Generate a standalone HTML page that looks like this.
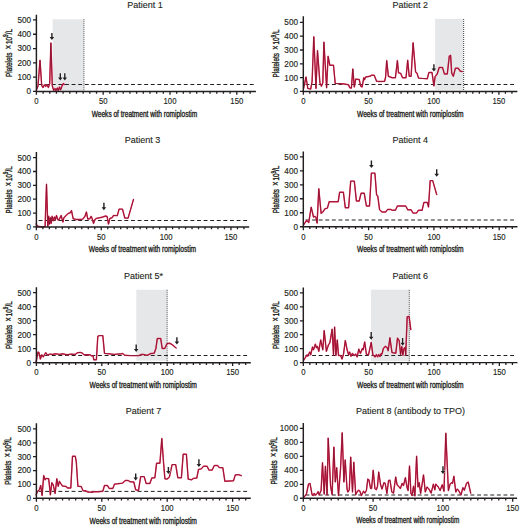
<!DOCTYPE html>
<html lang="en"><head><meta charset="utf-8"><title>Platelet counts during romiplostim treatment</title>
<style>html,body{margin:0;padding:0;background:#fff}body{width:520px;height:526px;overflow:hidden}svg{display:block}text{font-family:"Liberation Sans",sans-serif;fill:#231f20}.ax{stroke:#231f20;stroke-width:1.45;fill:none}.tk{stroke:#231f20;stroke-width:1.3;fill:none}.ref{stroke:#231f20;stroke-width:1;stroke-dasharray:3.9 2.7;stroke-dashoffset:4.9;fill:none}.dot{stroke:#55565a;stroke-width:1.15;stroke-dasharray:1 1;fill:none}.lo{stroke:#e82c58;stroke-width:1.45;fill:none;stroke-linejoin:round;stroke-linecap:round}.li{stroke:#7a1029;stroke-width:0.75;fill:none;stroke-linejoin:round;stroke-linecap:round}.ar{fill:#231f20;stroke:#fff;stroke-width:0.7;paint-order:stroke}.t{font-size:9px;stroke:#231f20;stroke-width:0.12px}.n{font-size:9px;stroke:#231f20;stroke-width:0.15px}.c{font-size:8.7px;stroke:#231f20;stroke-width:0.36px}</style></head><body>
<svg width="520" height="526" viewBox="0 0 520 526">
<rect width="520" height="526" fill="#fff"/>
<g>
<rect x="52.6" y="19.3" width="30.8" height="71.75" fill="#e6e7e8"/>
<text class="t" x="145.1" y="7.75" text-anchor="middle">Patient 1</text>
<path class="ref" d="M36.9 84.5H254.4"/>
<path class="dot" d="M83.9 19.3V91.45"/>
<path class="lo" d="M36.4 90.1L38 86.1L40 60.2L41.7 85.5L43 87.5L44.4 84.8L45.7 86.4L46.9 84.8L48.4 87.5L49.7 83.5L50.9 42.9L52.3 86.1L53.7 90.3L55 88.6L55.9 90.6L57.3 88L58.3 90.8L59.5 87L60.6 89.8L62.2 85.5L63.5 83.5L64.3 84.5"/>
<path class="li" d="M36.4 90.1L38 86.1L40 60.2L41.7 85.5L43 87.5L44.4 84.8L45.7 86.4L46.9 84.8L48.4 87.5L49.7 83.5L50.9 42.9L52.3 86.1L53.7 90.3L55 88.6L55.9 90.6L57.3 88L58.3 90.8L59.5 87L60.6 89.8L62.2 85.5L63.5 83.5L64.3 84.5"/>
<path class="ax" d="M36.4 14.8V91.45H255.9"/>
<text class="n" transform="translate(31.1 94.35) scale(0.91 1)" text-anchor="end">0</text>
<text class="n" transform="translate(31.1 80.05) scale(0.91 1)" text-anchor="end">100</text>
<text class="n" transform="translate(31.1 65.75) scale(0.91 1)" text-anchor="end">200</text>
<text class="n" transform="translate(31.1 51.45) scale(0.91 1)" text-anchor="end">300</text>
<text class="n" transform="translate(31.1 37.15) scale(0.91 1)" text-anchor="end">400</text>
<text class="n" transform="translate(31.1 22.85) scale(0.91 1)" text-anchor="end">500</text>
<path class="tk" d="M33 91.45H36.4M33 77.15H36.4M33 62.85H36.4M33 48.55H36.4M33 34.25H36.4M33 19.95H36.4M36.4 91.45V94.85M43.08 91.45V93.75M49.76 91.45V93.75M56.44 91.45V93.75M63.12 91.45V93.75M69.8 91.45V93.75M76.48 91.45V93.75M83.16 91.45V93.75M89.84 91.45V93.75M96.52 91.45V93.75M103.2 91.45V94.85M109.88 91.45V93.75M116.56 91.45V93.75M123.24 91.45V93.75M129.92 91.45V93.75M136.6 91.45V93.75M143.28 91.45V93.75M149.96 91.45V93.75M156.64 91.45V93.75M163.32 91.45V93.75M170 91.45V94.85M176.68 91.45V93.75M183.36 91.45V93.75M190.04 91.45V93.75M196.72 91.45V93.75M203.4 91.45V93.75M210.08 91.45V93.75M216.76 91.45V93.75M223.44 91.45V93.75M230.12 91.45V93.75M236.8 91.45V94.85M243.48 91.45V93.75M250.16 91.45V93.75"/>
<text class="n" transform="translate(36.4 103.8) scale(0.86 1)" text-anchor="middle">0</text>
<text class="n" transform="translate(103.2 103.8) scale(0.86 1)" text-anchor="middle">50</text>
<text class="n" transform="translate(170 103.8) scale(0.86 1)" text-anchor="middle">100</text>
<text class="n" transform="translate(236.8 103.8) scale(0.86 1)" text-anchor="middle">150</text>
<text class="c" transform="translate(91.75 117) scale(0.7551 1)">Weeks of treatment with romiplostim</text>
<text class="c" transform="translate(11.5 76.95) rotate(-90) scale(0.7330 1)">Platelets<tspan dx="4.6" font-size="10">×</tspan><tspan dx="1.2">10</tspan><tspan font-size="6.5" dy="-3.2">9</tspan><tspan dy="3.2">/L</tspan></text>
<path class="ar" d="M51.2 33H52.6V37H54.2L51.9 40L49.6 37H51.2Z"/>
<path class="ar" d="M59.6 73.2H61V77.5H62.6L60.3 80.5L58 77.5H59.6Z"/>
<path class="ar" d="M64.1 73.2H65.5V77.5H67.1L64.8 80.5L62.5 77.5H64.1Z"/>
</g>
<g>
<rect x="435.1" y="18.9" width="28" height="71.2" fill="#e6e7e8"/>
<text class="t" x="410.25" y="8.25" text-anchor="middle">Patient 2</text>
<path class="ref" d="M303.8 84.5H515.9"/>
<path class="dot" d="M463.6 18.9V91.4"/>
<path class="lo" d="M303.6 88.4L306 77L307.8 88.4L310.7 89.1L312.1 81.3L313.8 36.8L316 88.4L317.5 50.6L319.9 82.7L321.4 86.2L322.8 82.7L323.9 42.1L326.6 87.7L328.1 56.3L329.9 65.3L333.5 65.3L335.2 83.4L342.7 83.8L348.6 84.8L349.7 87.7L351.4 88.1L352.8 68.9L354.3 87L355.7 79.1L359.2 79.5L360.7 86.2L362.1 87L363.8 77.7L364.5 79.8L365.7 77L369.9 76.3L371.4 75.3L374.2 75.3L376.6 81.3L380.6 81.5L384.6 81.3L385.6 77L386.7 60.6L388.4 76.3L392.1 77.7L395.4 77.7L397.4 60.6L398.5 72.7L400.7 73.4L402.5 77.7L406 77.7L407.7 60.3L409.2 76.3L411.1 76.3L413.1 42.8L415.6 72L417.1 73.4L418.5 78.1L422.1 78.4L427.3 78.7L428.9 72.5L432 72.4L433.9 85.9L435.1 76.6L437.2 74L439.2 67.5L442.5 67.5L444.4 73.9L447.3 73.9L449.3 56.1L450.6 55.3L451.7 73.1L453.3 76.3L455.4 68.3L458.2 68.3L460.3 71.2L462.2 71.5"/>
<path class="li" d="M303.6 88.4L306 77L307.8 88.4L310.7 89.1L312.1 81.3L313.8 36.8L316 88.4L317.5 50.6L319.9 82.7L321.4 86.2L322.8 82.7L323.9 42.1L326.6 87.7L328.1 56.3L329.9 65.3L333.5 65.3L335.2 83.4L342.7 83.8L348.6 84.8L349.7 87.7L351.4 88.1L352.8 68.9L354.3 87L355.7 79.1L359.2 79.5L360.7 86.2L362.1 87L363.8 77.7L364.5 79.8L365.7 77L369.9 76.3L371.4 75.3L374.2 75.3L376.6 81.3L380.6 81.5L384.6 81.3L385.6 77L386.7 60.6L388.4 76.3L392.1 77.7L395.4 77.7L397.4 60.6L398.5 72.7L400.7 73.4L402.5 77.7L406 77.7L407.7 60.3L409.2 76.3L411.1 76.3L413.1 42.8L415.6 72L417.1 73.4L418.5 78.1L422.1 78.4L427.3 78.7L428.9 72.5L432 72.4L433.9 85.9L435.1 76.6L437.2 74L439.2 67.5L442.5 67.5L444.4 73.9L447.3 73.9L449.3 56.1L450.6 55.3L451.7 73.1L453.3 76.3L455.4 68.3L458.2 68.3L460.3 71.2L462.2 71.5"/>
<path class="ax" d="M303.3 16.3V91.4H517.4"/>
<text class="n" transform="translate(298 94.3) scale(0.91 1)" text-anchor="end">0</text>
<text class="n" transform="translate(298 80.5) scale(0.91 1)" text-anchor="end">100</text>
<text class="n" transform="translate(298 66.7) scale(0.91 1)" text-anchor="end">200</text>
<text class="n" transform="translate(298 52.9) scale(0.91 1)" text-anchor="end">300</text>
<text class="n" transform="translate(298 39.1) scale(0.91 1)" text-anchor="end">400</text>
<text class="n" transform="translate(298 25.3) scale(0.91 1)" text-anchor="end">500</text>
<path class="tk" d="M299.9 91.4H303.3M299.9 77.6H303.3M299.9 63.8H303.3M299.9 50H303.3M299.9 36.2H303.3M299.9 22.4H303.3M303.3 91.4V94.8M309.82 91.4V93.7M316.34 91.4V93.7M322.86 91.4V93.7M329.38 91.4V93.7M335.9 91.4V93.7M342.42 91.4V93.7M348.94 91.4V93.7M355.46 91.4V93.7M361.98 91.4V93.7M368.5 91.4V94.8M375.02 91.4V93.7M381.54 91.4V93.7M388.06 91.4V93.7M394.58 91.4V93.7M401.1 91.4V93.7M407.62 91.4V93.7M414.14 91.4V93.7M420.66 91.4V93.7M427.18 91.4V93.7M433.7 91.4V94.8M440.22 91.4V93.7M446.74 91.4V93.7M453.26 91.4V93.7M459.78 91.4V93.7M466.3 91.4V93.7M472.82 91.4V93.7M479.34 91.4V93.7M485.86 91.4V93.7M492.38 91.4V93.7M498.9 91.4V94.8M505.42 91.4V93.7M511.94 91.4V93.7"/>
<text class="n" transform="translate(303.3 103.8) scale(0.86 1)" text-anchor="middle">0</text>
<text class="n" transform="translate(368.5 103.8) scale(0.86 1)" text-anchor="middle">50</text>
<text class="n" transform="translate(433.7 103.8) scale(0.86 1)" text-anchor="middle">100</text>
<text class="n" transform="translate(498.9 103.8) scale(0.86 1)" text-anchor="middle">150</text>
<text class="c" transform="translate(357 117) scale(0.7622 1)">Weeks of treatment with romiplostim</text>
<text class="c" transform="translate(279 77.45) rotate(-90) scale(0.7330 1)">Platelets<tspan dx="4.6" font-size="10">×</tspan><tspan dx="1.2">10</tspan><tspan font-size="6.5" dy="-3.2">9</tspan><tspan dy="3.2">/L</tspan></text>
<path class="ar" d="M433.2 64.2H434.6V68.6H436.2L433.9 71.6L431.6 68.6H433.2Z"/>
</g>
<g>
<text class="t" x="142.5" y="142.5" text-anchor="middle">Patient 3</text>
<path class="ref" d="M36.9 220.5H247.7"/>
<path class="lo" d="M36.1 224.1L37.6 226.1L41.1 226.8L45.1 226.5L46.5 184.2L47.8 226.2L48.7 216.3L49.4 224.1L50.4 217.7L51.1 223.4L52.1 216.3L53.2 220.8L54.4 217L55.4 219.8L56.5 215.5L57.9 219.8L59.4 219.1L61.1 215.5L62.9 222L63.9 217.7L66.1 215.5L68.2 213.4L70.3 212.7L71.5 210.6L73.2 218.8L76 219.4L80.3 219.4L82.8 219.1L85 216.3L86.4 212L87.8 219.1L89.7 218.8L91.1 216.3L92.1 218.4L93.5 223.4L94.7 219.8L96.4 218.4L99.9 217.7L102.8 217L105.6 216L107.1 216.5L108.5 224.1L109.9 218.4L112.1 217.7L113.5 215.5L117.3 215.6L119.1 209.1L122.5 209.1L124.8 218L128.1 218.1L133.5 199.4"/>
<path class="li" d="M36.1 224.1L37.6 226.1L41.1 226.8L45.1 226.5L46.5 184.2L47.8 226.2L48.7 216.3L49.4 224.1L50.4 217.7L51.1 223.4L52.1 216.3L53.2 220.8L54.4 217L55.4 219.8L56.5 215.5L57.9 219.8L59.4 219.1L61.1 215.5L62.9 222L63.9 217.7L66.1 215.5L68.2 213.4L70.3 212.7L71.5 210.6L73.2 218.8L76 219.4L80.3 219.4L82.8 219.1L85 216.3L86.4 212L87.8 219.1L89.7 218.8L91.1 216.3L92.1 218.4L93.5 223.4L94.7 219.8L96.4 218.4L99.9 217.7L102.8 217L105.6 216L107.1 216.5L108.5 224.1L109.9 218.4L112.1 217.7L113.5 215.5L117.3 215.6L119.1 209.1L122.5 209.1L124.8 218L128.1 218.1L133.5 199.4"/>
<path class="ax" d="M36.4 152.1V226.9H249.2"/>
<text class="n" transform="translate(31.1 229.8) scale(0.91 1)" text-anchor="end">0</text>
<text class="n" transform="translate(31.1 215.95) scale(0.91 1)" text-anchor="end">100</text>
<text class="n" transform="translate(31.1 202.1) scale(0.91 1)" text-anchor="end">200</text>
<text class="n" transform="translate(31.1 188.25) scale(0.91 1)" text-anchor="end">300</text>
<text class="n" transform="translate(31.1 174.4) scale(0.91 1)" text-anchor="end">400</text>
<text class="n" transform="translate(31.1 160.55) scale(0.91 1)" text-anchor="end">500</text>
<path class="tk" d="M33 226.9H36.4M33 213.05H36.4M33 199.2H36.4M33 185.35H36.4M33 171.5H36.4M33 157.65H36.4M36.4 226.9V230.3M42.88 226.9V229.2M49.37 226.9V229.2M55.85 226.9V229.2M62.34 226.9V229.2M68.82 226.9V229.2M75.31 226.9V229.2M81.79 226.9V229.2M88.28 226.9V229.2M94.76 226.9V229.2M101.25 226.9V230.3M107.73 226.9V229.2M114.22 226.9V229.2M120.7 226.9V229.2M127.19 226.9V229.2M133.67 226.9V229.2M140.16 226.9V229.2M146.64 226.9V229.2M153.13 226.9V229.2M159.61 226.9V229.2M166.1 226.9V230.3M172.59 226.9V229.2M179.07 226.9V229.2M185.56 226.9V229.2M192.04 226.9V229.2M198.53 226.9V229.2M205.01 226.9V229.2M211.5 226.9V229.2M217.98 226.9V229.2M224.47 226.9V229.2M230.95 226.9V230.3M237.44 226.9V229.2M243.92 226.9V229.2"/>
<text class="n" transform="translate(36.4 239.5) scale(0.86 1)" text-anchor="middle">0</text>
<text class="n" transform="translate(101.25 239.5) scale(0.86 1)" text-anchor="middle">50</text>
<text class="n" transform="translate(166.1 239.5) scale(0.86 1)" text-anchor="middle">100</text>
<text class="n" transform="translate(230.95 239.5) scale(0.86 1)" text-anchor="middle">150</text>
<text class="c" transform="translate(88.75 252) scale(0.7675 1)">Weeks of treatment with romiplostim</text>
<text class="c" transform="translate(11.5 213.4) rotate(-90) scale(0.7192 1)">Platelets<tspan dx="4.6" font-size="10">×</tspan><tspan dx="1.2">10</tspan><tspan font-size="6.5" dy="-3.2">9</tspan><tspan dy="3.2">/L</tspan></text>
<path class="ar" d="M103.2 202.7H104.6V207.3H106.2L103.9 210.3L101.6 207.3H103.2Z"/>
</g>
<g>
<text class="t" x="410.25" y="143" text-anchor="middle">Patient 4</text>
<path class="ref" d="M303.8 220H516"/>
<path class="lo" d="M303.6 224.8L306.6 220.4L308.7 222.6L311.2 207.2L313.5 217L315 216.3L316 217.7L317.1 223.1L318.8 188.8L321.1 213.4L322.8 212L324.9 208.8L327.4 208.1L329.2 201.7L338.2 201.7L339.6 192.3L343.4 192.3L345.3 207.7L348.6 207.7L350.7 181.1L354.3 181.1L356.4 201L359.2 201L361.1 193.2L364.2 193.2L366.4 206L369.5 206L371.4 173.1L374.9 173.1L376.6 194.9L377.8 196.3L379.6 209.8L382 212L385.6 212L387.7 209.4L390.6 209.4L392.4 210.3L395.4 210.3L397.4 206L405.7 206L407.8 209.8L411.1 209.8L413.1 213.1L416.4 213.1L418.5 210.3L422.1 210.3L423.9 202.4L427.3 202.4L428.5 207L430.2 180.6L432.7 180.6L436.7 194.6"/>
<path class="li" d="M303.6 224.8L306.6 220.4L308.7 222.6L311.2 207.2L313.5 217L315 216.3L316 217.7L317.1 223.1L318.8 188.8L321.1 213.4L322.8 212L324.9 208.8L327.4 208.1L329.2 201.7L338.2 201.7L339.6 192.3L343.4 192.3L345.3 207.7L348.6 207.7L350.7 181.1L354.3 181.1L356.4 201L359.2 201L361.1 193.2L364.2 193.2L366.4 206L369.5 206L371.4 173.1L374.9 173.1L376.6 194.9L377.8 196.3L379.6 209.8L382 212L385.6 212L387.7 209.4L390.6 209.4L392.4 210.3L395.4 210.3L397.4 206L405.7 206L407.8 209.8L411.1 209.8L413.1 213.1L416.4 213.1L418.5 210.3L422.1 210.3L423.9 202.4L427.3 202.4L428.5 207L430.2 180.6L432.7 180.6L436.7 194.6"/>
<path class="ax" d="M303.3 151.4V226.75H517.5"/>
<text class="n" transform="translate(298 229.65) scale(0.91 1)" text-anchor="end">0</text>
<text class="n" transform="translate(298 215.66) scale(0.91 1)" text-anchor="end">100</text>
<text class="n" transform="translate(298 201.67) scale(0.91 1)" text-anchor="end">200</text>
<text class="n" transform="translate(298 187.68) scale(0.91 1)" text-anchor="end">300</text>
<text class="n" transform="translate(298 173.69) scale(0.91 1)" text-anchor="end">400</text>
<text class="n" transform="translate(298 159.7) scale(0.91 1)" text-anchor="end">500</text>
<path class="tk" d="M299.9 226.75H303.3M299.9 212.76H303.3M299.9 198.77H303.3M299.9 184.78H303.3M299.9 170.79H303.3M299.9 156.8H303.3M303.3 226.75V230.15M309.83 226.75V229.05M316.36 226.75V229.05M322.89 226.75V229.05M329.42 226.75V229.05M335.95 226.75V229.05M342.48 226.75V229.05M349.01 226.75V229.05M355.54 226.75V229.05M362.07 226.75V229.05M368.6 226.75V230.15M375.13 226.75V229.05M381.66 226.75V229.05M388.19 226.75V229.05M394.72 226.75V229.05M401.25 226.75V229.05M407.78 226.75V229.05M414.31 226.75V229.05M420.84 226.75V229.05M427.37 226.75V229.05M433.9 226.75V230.15M440.43 226.75V229.05M446.96 226.75V229.05M453.49 226.75V229.05M460.02 226.75V229.05M466.55 226.75V229.05M473.08 226.75V229.05M479.61 226.75V229.05M486.14 226.75V229.05M492.67 226.75V229.05M499.2 226.75V230.15M505.73 226.75V229.05M512.26 226.75V229.05"/>
<text class="n" transform="translate(303.3 239.5) scale(0.86 1)" text-anchor="middle">0</text>
<text class="n" transform="translate(368.6 239.5) scale(0.86 1)" text-anchor="middle">50</text>
<text class="n" transform="translate(433.9 239.5) scale(0.86 1)" text-anchor="middle">100</text>
<text class="n" transform="translate(499.2 239.5) scale(0.86 1)" text-anchor="middle">150</text>
<text class="c" transform="translate(357 252) scale(0.7622 1)">Weeks of treatment with romiplostim</text>
<text class="c" transform="translate(279 213.25) rotate(-90) scale(0.7269 1)">Platelets<tspan dx="4.6" font-size="10">×</tspan><tspan dx="1.2">10</tspan><tspan font-size="6.5" dy="-3.2">9</tspan><tspan dy="3.2">/L</tspan></text>
<path class="ar" d="M370.7 160.4H372.1V165.1H373.7L371.4 168.1L369.1 165.1H370.7Z"/>
<path class="ar" d="M436 169.2H437.4V173.7H439L436.7 176.7L434.4 173.7H436Z"/>
</g>
<g>
<rect x="136.3" y="289.8" width="30.3" height="70.9" fill="#e6e7e8"/>
<text class="t" x="143.4" y="279" text-anchor="middle">Patient 5*</text>
<path class="ref" d="M36.9 355.5H249.3"/>
<path class="dot" d="M167.1 289.8V362.7"/>
<path class="lo" d="M36.1 361.9L38 352L39 352.7L40.4 359.1L41.8 354.8L43.3 356.9L45.7 352.7L47.5 355.2L49.7 354.1L52.5 354.4L55.4 353.8L59.6 354.4L62.5 353.8L66.8 354.8L71 354.1L75.3 354.4L77.4 352.7L80.3 352.4L82.1 353L84 354.8L90 354.8L91.4 355.8L93.1 355.8L93.8 359.8L96.4 359.8L97.8 336.3L99.2 335.6L102.8 335.6L104.5 353.4L108.5 353.8L114.2 354.4L121.3 353.8L122.6 353.5L124.8 355.2L130.3 355.6L138.8 355.6L141.4 354.4L143.9 354.4L145.6 355.2L148.2 354.9L150.8 353.5L154.2 353.2L155.9 348.4L157.3 338.5L160.7 338.5L162.2 348.4L164.8 348.4L167 343.6L169.6 343.2L172.1 344.6L176.1 348"/>
<path class="li" d="M36.1 361.9L38 352L39 352.7L40.4 359.1L41.8 354.8L43.3 356.9L45.7 352.7L47.5 355.2L49.7 354.1L52.5 354.4L55.4 353.8L59.6 354.4L62.5 353.8L66.8 354.8L71 354.1L75.3 354.4L77.4 352.7L80.3 352.4L82.1 353L84 354.8L90 354.8L91.4 355.8L93.1 355.8L93.8 359.8L96.4 359.8L97.8 336.3L99.2 335.6L102.8 335.6L104.5 353.4L108.5 353.8L114.2 354.4L121.3 353.8L122.6 353.5L124.8 355.2L130.3 355.6L138.8 355.6L141.4 354.4L143.9 354.4L145.6 355.2L148.2 354.9L150.8 353.5L154.2 353.2L155.9 348.4L157.3 338.5L160.7 338.5L162.2 348.4L164.8 348.4L167 343.6L169.6 343.2L172.1 344.6L176.1 348"/>
<path class="ax" d="M36.4 287.2V362.7H250.8"/>
<text class="n" transform="translate(31.1 365.6) scale(0.91 1)" text-anchor="end">0</text>
<text class="n" transform="translate(31.1 351.58) scale(0.91 1)" text-anchor="end">100</text>
<text class="n" transform="translate(31.1 337.56) scale(0.91 1)" text-anchor="end">200</text>
<text class="n" transform="translate(31.1 323.54) scale(0.91 1)" text-anchor="end">300</text>
<text class="n" transform="translate(31.1 309.52) scale(0.91 1)" text-anchor="end">400</text>
<text class="n" transform="translate(31.1 295.5) scale(0.91 1)" text-anchor="end">500</text>
<path class="tk" d="M33 362.7H36.4M33 348.68H36.4M33 334.66H36.4M33 320.64H36.4M33 306.62H36.4M33 292.6H36.4M36.4 362.7V366.1M42.94 362.7V365M49.48 362.7V365M56.02 362.7V365M62.56 362.7V365M69.1 362.7V365M75.64 362.7V365M82.18 362.7V365M88.72 362.7V365M95.26 362.7V365M101.8 362.7V366.1M108.34 362.7V365M114.88 362.7V365M121.42 362.7V365M127.96 362.7V365M134.5 362.7V365M141.04 362.7V365M147.58 362.7V365M154.12 362.7V365M160.66 362.7V365M167.2 362.7V366.1M173.74 362.7V365M180.28 362.7V365M186.82 362.7V365M193.36 362.7V365M199.9 362.7V365M206.44 362.7V365M212.98 362.7V365M219.52 362.7V365M226.06 362.7V365M232.6 362.7V366.1M239.14 362.7V365M245.68 362.7V365"/>
<text class="n" transform="translate(36.4 374.9) scale(0.86 1)" text-anchor="middle">0</text>
<text class="n" transform="translate(101.8 374.9) scale(0.86 1)" text-anchor="middle">50</text>
<text class="n" transform="translate(167.2 374.9) scale(0.86 1)" text-anchor="middle">100</text>
<text class="n" transform="translate(232.6 374.9) scale(0.86 1)" text-anchor="middle">150</text>
<text class="c" transform="translate(89.5 388.25) scale(0.7675 1)">Weeks of treatment with romiplostim</text>
<text class="c" transform="translate(11.5 348.95) rotate(-90) scale(0.7269 1)">Platelets<tspan dx="4.6" font-size="10">×</tspan><tspan dx="1.2">10</tspan><tspan font-size="6.5" dy="-3.2">9</tspan><tspan dy="3.2">/L</tspan></text>
<path class="ar" d="M135.5 344.6H136.9V349.1H138.5L136.2 352.1L133.9 349.1H135.5Z"/>
<path class="ar" d="M176.2 337.3H177.6V341.6H179.2L176.9 344.6L174.6 341.6H176.2Z"/>
</g>
<g>
<rect x="370.9" y="289.7" width="37.9" height="71.6" fill="#e6e7e8"/>
<text class="t" x="410.25" y="279" text-anchor="middle">Patient 6</text>
<path class="ref" d="M303.8 355.5H516"/>
<path class="dot" d="M409.3 289.7V362.6"/>
<path class="lo" d="M303.6 360.5L305.7 357L307.1 354.8L307.8 356.2L309.7 352L310.7 354.8L312.5 347L313.5 349.8L315.4 344.1L316.4 347.7L317.4 346.3L318.8 351.3L320.7 339.9L322.8 349.8L324.2 330.6L326.4 351.3L328.5 344.8L329.9 342.7L332.1 329.2L333.5 354.8L334.6 327L335.9 355.5L337.3 339.9L338.5 355.5L340.6 355.5L342 359.1L343.4 354.8L345.3 340.6L347.1 349.8L348.6 354.8L349.6 352L351 356.2L352.4 353.4L354.3 355.5L355.7 354.1L357.1 357L358.8 349.1L360.4 353.4L362.4 348.4L363.2 349.8L364.7 342L366.4 354.1L368.5 354.8L371.2 342.4L372.9 354.8L375.1 357L376.4 354.6L377.6 356.8L378.8 354.5L380 356.6L381 353.8L382 354L383.4 348.4L385.4 346.3L387.1 347.6L388.2 350.7L389.9 337.8L392 352.6L395.8 353.2L397.5 338.1L399.2 340.7L400.6 354.4L401.8 346.7L402.9 355.2L404 348.4L405.2 347.5L405.7 354.9L407.2 316.8L409.1 316.4L410.8 329.6"/>
<path class="li" d="M303.6 360.5L305.7 357L307.1 354.8L307.8 356.2L309.7 352L310.7 354.8L312.5 347L313.5 349.8L315.4 344.1L316.4 347.7L317.4 346.3L318.8 351.3L320.7 339.9L322.8 349.8L324.2 330.6L326.4 351.3L328.5 344.8L329.9 342.7L332.1 329.2L333.5 354.8L334.6 327L335.9 355.5L337.3 339.9L338.5 355.5L340.6 355.5L342 359.1L343.4 354.8L345.3 340.6L347.1 349.8L348.6 354.8L349.6 352L351 356.2L352.4 353.4L354.3 355.5L355.7 354.1L357.1 357L358.8 349.1L360.4 353.4L362.4 348.4L363.2 349.8L364.7 342L366.4 354.1L368.5 354.8L371.2 342.4L372.9 354.8L375.1 357L376.4 354.6L377.6 356.8L378.8 354.5L380 356.6L381 353.8L382 354L383.4 348.4L385.4 346.3L387.1 347.6L388.2 350.7L389.9 337.8L392 352.6L395.8 353.2L397.5 338.1L399.2 340.7L400.6 354.4L401.8 346.7L402.9 355.2L404 348.4L405.2 347.5L405.7 354.9L407.2 316.8L409.1 316.4L410.8 329.6"/>
<path class="ax" d="M303.3 287.5V362.6H517.5"/>
<text class="n" transform="translate(298 365.5) scale(0.91 1)" text-anchor="end">0</text>
<text class="n" transform="translate(298 351.56) scale(0.91 1)" text-anchor="end">100</text>
<text class="n" transform="translate(298 337.62) scale(0.91 1)" text-anchor="end">200</text>
<text class="n" transform="translate(298 323.68) scale(0.91 1)" text-anchor="end">300</text>
<text class="n" transform="translate(298 309.74) scale(0.91 1)" text-anchor="end">400</text>
<text class="n" transform="translate(298 295.8) scale(0.91 1)" text-anchor="end">500</text>
<path class="tk" d="M299.9 362.6H303.3M299.9 348.66H303.3M299.9 334.72H303.3M299.9 320.78H303.3M299.9 306.84H303.3M299.9 292.9H303.3M303.3 362.6V366M309.84 362.6V364.9M316.37 362.6V364.9M322.91 362.6V364.9M329.44 362.6V364.9M335.98 362.6V364.9M342.51 362.6V364.9M349.05 362.6V364.9M355.58 362.6V364.9M362.12 362.6V364.9M368.65 362.6V366M375.19 362.6V364.9M381.72 362.6V364.9M388.25 362.6V364.9M394.79 362.6V364.9M401.32 362.6V364.9M407.86 362.6V364.9M414.39 362.6V364.9M420.93 362.6V364.9M427.47 362.6V364.9M434 362.6V366M440.53 362.6V364.9M447.07 362.6V364.9M453.61 362.6V364.9M460.14 362.6V364.9M466.68 362.6V364.9M473.21 362.6V364.9M479.75 362.6V364.9M486.28 362.6V364.9M492.81 362.6V364.9M499.35 362.6V366M505.88 362.6V364.9M512.42 362.6V364.9"/>
<text class="n" transform="translate(303.3 374.9) scale(0.86 1)" text-anchor="middle">0</text>
<text class="n" transform="translate(368.65 374.9) scale(0.86 1)" text-anchor="middle">50</text>
<text class="n" transform="translate(434 374.9) scale(0.86 1)" text-anchor="middle">100</text>
<text class="n" transform="translate(499.35 374.9) scale(0.86 1)" text-anchor="middle">150</text>
<text class="c" transform="translate(357 388.25) scale(0.7622 1)">Weeks of treatment with romiplostim</text>
<text class="c" transform="translate(279 348.95) rotate(-90) scale(0.7269 1)">Platelets<tspan dx="4.6" font-size="10">×</tspan><tspan dx="1.2">10</tspan><tspan font-size="6.5" dy="-3.2">9</tspan><tspan dy="3.2">/L</tspan></text>
<path class="ar" d="M370.5 332.1H371.9V336.8H373.5L371.2 339.8L368.9 336.8H370.5Z"/>
<path class="ar" d="M401.9 338.1H403.3V342.8H404.9L402.6 345.8L400.3 342.8H401.9Z"/>
</g>
<g>
<text class="t" x="143.5" y="414.25" text-anchor="middle">Patient 7</text>
<path class="ref" d="M36.9 491.4H249.3"/>
<path class="lo" d="M36.1 494.8L37.6 491.2L39.4 489.8L40.7 485.5L42.1 495.5L43.7 475.6L45.1 479.8L46.1 478.4L48.7 478.8L50.4 494.8L51.8 482.7L53.2 484.8L55.1 493.4L56.8 478.8L58.2 486.3L59.4 481.3L61.1 484.1L62.5 486L66.1 486.5L67.5 488L70.8 488L72.5 456.3L75.3 456.3L76.3 462L77.9 486.3L81.2 486.5L83.1 490.8L85.7 490.8L87.8 492L92.1 492.2L94.2 491.7L98.5 491.7L102.8 491.2L104.5 485.5L107.4 485.5L109.2 488.4L112.8 488.4L114.5 484.1L117.7 483.8L122.7 483.1L125.3 480.4L128.2 480.5L130 481.7L133.8 482L135.7 489.8L138.5 490.5L140.7 476.6L144.2 476.6L146.1 483.4L149.9 483.4L151.8 478L154.9 477.7L156.6 463.2L159.9 463.2L161.8 438.5L163.5 462L164.9 478.8L167 479.1L169.4 477L172.1 464.6L175.7 464.6L177.8 477.7L181.4 477.7L183.2 454.2L186.4 454.2L188.2 479.1L191.4 479.8L193.5 478.4L196.8 478L198.5 469.4L201.3 468.9L203.5 466.3L207.1 466.3L209 470.1L212.1 470.1L214.3 465.5L217.5 465.5L219.2 467.5L222.8 467.7L224.9 481.3L233.5 480.8L235.3 474.9L238.5 474.6L241.3 475.6"/>
<path class="li" d="M36.1 494.8L37.6 491.2L39.4 489.8L40.7 485.5L42.1 495.5L43.7 475.6L45.1 479.8L46.1 478.4L48.7 478.8L50.4 494.8L51.8 482.7L53.2 484.8L55.1 493.4L56.8 478.8L58.2 486.3L59.4 481.3L61.1 484.1L62.5 486L66.1 486.5L67.5 488L70.8 488L72.5 456.3L75.3 456.3L76.3 462L77.9 486.3L81.2 486.5L83.1 490.8L85.7 490.8L87.8 492L92.1 492.2L94.2 491.7L98.5 491.7L102.8 491.2L104.5 485.5L107.4 485.5L109.2 488.4L112.8 488.4L114.5 484.1L117.7 483.8L122.7 483.1L125.3 480.4L128.2 480.5L130 481.7L133.8 482L135.7 489.8L138.5 490.5L140.7 476.6L144.2 476.6L146.1 483.4L149.9 483.4L151.8 478L154.9 477.7L156.6 463.2L159.9 463.2L161.8 438.5L163.5 462L164.9 478.8L167 479.1L169.4 477L172.1 464.6L175.7 464.6L177.8 477.7L181.4 477.7L183.2 454.2L186.4 454.2L188.2 479.1L191.4 479.8L193.5 478.4L196.8 478L198.5 469.4L201.3 468.9L203.5 466.3L207.1 466.3L209 470.1L212.1 470.1L214.3 465.5L217.5 465.5L219.2 467.5L222.8 467.7L224.9 481.3L233.5 480.8L235.3 474.9L238.5 474.6L241.3 475.6"/>
<path class="ax" d="M36.4 423.2V498.3H250.8"/>
<text class="n" transform="translate(31.1 501.2) scale(0.91 1)" text-anchor="end">0</text>
<text class="n" transform="translate(31.1 487.32) scale(0.91 1)" text-anchor="end">100</text>
<text class="n" transform="translate(31.1 473.44) scale(0.91 1)" text-anchor="end">200</text>
<text class="n" transform="translate(31.1 459.56) scale(0.91 1)" text-anchor="end">300</text>
<text class="n" transform="translate(31.1 445.68) scale(0.91 1)" text-anchor="end">400</text>
<text class="n" transform="translate(31.1 431.8) scale(0.91 1)" text-anchor="end">500</text>
<path class="tk" d="M33 498.3H36.4M33 484.42H36.4M33 470.54H36.4M33 456.66H36.4M33 442.78H36.4M33 428.9H36.4M36.4 498.3V501.7M42.94 498.3V500.6M49.48 498.3V500.6M56.02 498.3V500.6M62.56 498.3V500.6M69.1 498.3V500.6M75.64 498.3V500.6M82.18 498.3V500.6M88.72 498.3V500.6M95.26 498.3V500.6M101.8 498.3V501.7M108.34 498.3V500.6M114.88 498.3V500.6M121.42 498.3V500.6M127.96 498.3V500.6M134.5 498.3V500.6M141.04 498.3V500.6M147.58 498.3V500.6M154.12 498.3V500.6M160.66 498.3V500.6M167.2 498.3V501.7M173.74 498.3V500.6M180.28 498.3V500.6M186.82 498.3V500.6M193.36 498.3V500.6M199.9 498.3V500.6M206.44 498.3V500.6M212.98 498.3V500.6M219.52 498.3V500.6M226.06 498.3V500.6M232.6 498.3V501.7M239.14 498.3V500.6M245.68 498.3V500.6"/>
<text class="n" transform="translate(36.4 510.6) scale(0.86 1)" text-anchor="middle">0</text>
<text class="n" transform="translate(101.8 510.6) scale(0.86 1)" text-anchor="middle">50</text>
<text class="n" transform="translate(167.2 510.6) scale(0.86 1)" text-anchor="middle">100</text>
<text class="n" transform="translate(232.6 510.6) scale(0.86 1)" text-anchor="middle">150</text>
<text class="c" transform="translate(89.5 523.5) scale(0.7675 1)">Weeks of treatment with romiplostim</text>
<text class="c" transform="translate(11.3 484.75) rotate(-90) scale(0.7269 1)">Platelets<tspan dx="4.6" font-size="10">×</tspan><tspan dx="1.2">10</tspan><tspan font-size="6.5" dy="-3.2">9</tspan><tspan dy="3.2">/L</tspan></text>
<path class="ar" d="M135 473.4H136.4V477.6H138L135.7 480.6L133.4 477.6H135Z"/>
<path class="ar" d="M167.7 467H169.1V471.1H170.7L168.4 474.1L166.1 471.1H167.7Z"/>
<path class="ar" d="M198.2 459.2H199.6V464H201.2L198.9 467L196.6 464H198.2Z"/>
</g>
<g>
<text class="t" x="410.5" y="413.75" text-anchor="middle">Patient 8 (antibody to TPO)</text>
<path class="ref" d="M303.8 495H515.6"/>
<path class="lo" d="M303.6 497.6L306.4 494.1L308.5 484.1L310 483.4L312.1 494.8L313.1 495.5L314.2 493.4L315.7 495.1L317.1 493.4L318.1 491.7L319.2 494.8L321.1 490.5L322.5 462.7L324.2 494.1L325.4 466.3L327.1 494.8L328.2 438.1L330.6 486.3L332.1 494.5L333.9 447.1L335.3 482L336.7 467.7L338.5 495.5L340.6 467.7L342.2 432.8L343.9 482L345.2 459.9L347 488.5L347.8 492L349.3 489.8L350.7 457.1L352.5 492L353.8 462.3L355.7 494.8L357.1 492L358.5 490.2L359.9 491.2L361.4 495.5L363.5 491.2L364.9 493.1L366.4 490.5L367.8 479.1L368.9 479.8L370.6 488.4L371.6 488.4L373.2 470.3L374.9 488.4L376.3 489.8L377.5 486.3L378.7 472L380.6 484.8L382 489.1L383.9 482.7L385.2 483.4L386.9 493.4L388.6 480.4L390 480.3L391.8 492L393.5 493.1L395.7 477L397.1 484.8L398.5 486.3L400.4 488.4L402.1 483.4L403.5 485.5L405.4 477.7L407.1 487.7L408.1 490.5L409.5 466L410.9 493.4L412.1 495.5L413.5 486.3L414.9 495.9L416.6 456.3L418 487L419.2 482.7L420.6 493.4L422 484.8L423.5 474.9L425.3 492L427 487L428.4 488.4L429.4 489.8L431.1 493.1L433.4 484.1L434.8 489.8L435.8 484.1L438.3 487L440.1 490.5L442.2 484.8L444 491.2L445.8 433.3L448.4 490.5L450.1 484.1L451.5 482.7L452.5 483.4L453.9 476.3L455.8 492L457.2 489.1L458.6 490.5L461 494.8L462.9 487.7L464.3 490.2L466.5 483.4L468.2 482L470.7 493.1"/>
<path class="li" d="M303.6 497.6L306.4 494.1L308.5 484.1L310 483.4L312.1 494.8L313.1 495.5L314.2 493.4L315.7 495.1L317.1 493.4L318.1 491.7L319.2 494.8L321.1 490.5L322.5 462.7L324.2 494.1L325.4 466.3L327.1 494.8L328.2 438.1L330.6 486.3L332.1 494.5L333.9 447.1L335.3 482L336.7 467.7L338.5 495.5L340.6 467.7L342.2 432.8L343.9 482L345.2 459.9L347 488.5L347.8 492L349.3 489.8L350.7 457.1L352.5 492L353.8 462.3L355.7 494.8L357.1 492L358.5 490.2L359.9 491.2L361.4 495.5L363.5 491.2L364.9 493.1L366.4 490.5L367.8 479.1L368.9 479.8L370.6 488.4L371.6 488.4L373.2 470.3L374.9 488.4L376.3 489.8L377.5 486.3L378.7 472L380.6 484.8L382 489.1L383.9 482.7L385.2 483.4L386.9 493.4L388.6 480.4L390 480.3L391.8 492L393.5 493.1L395.7 477L397.1 484.8L398.5 486.3L400.4 488.4L402.1 483.4L403.5 485.5L405.4 477.7L407.1 487.7L408.1 490.5L409.5 466L410.9 493.4L412.1 495.5L413.5 486.3L414.9 495.9L416.6 456.3L418 487L419.2 482.7L420.6 493.4L422 484.8L423.5 474.9L425.3 492L427 487L428.4 488.4L429.4 489.8L431.1 493.1L433.4 484.1L434.8 489.8L435.8 484.1L438.3 487L440.1 490.5L442.2 484.8L444 491.2L445.8 433.3L448.4 490.5L450.1 484.1L451.5 482.7L452.5 483.4L453.9 476.3L455.8 492L457.2 489.1L458.6 490.5L461 494.8L462.9 487.7L464.3 490.2L466.5 483.4L468.2 482L470.7 493.1"/>
<path class="ax" d="M303.3 423V498.25H517.1"/>
<text class="n" transform="translate(298 501.15) scale(0.91 1)" text-anchor="end">0</text>
<text class="n" transform="translate(298 487.19) scale(0.91 1)" text-anchor="end">200</text>
<text class="n" transform="translate(298 473.23) scale(0.91 1)" text-anchor="end">400</text>
<text class="n" transform="translate(298 459.27) scale(0.91 1)" text-anchor="end">600</text>
<text class="n" transform="translate(298 445.31) scale(0.91 1)" text-anchor="end">800</text>
<text class="n" transform="translate(298 431.35) scale(0.91 1)" text-anchor="end">1000</text>
<path class="tk" d="M299.9 498.25H303.3M299.9 484.29H303.3M299.9 470.33H303.3M299.9 456.37H303.3M299.9 442.41H303.3M299.9 428.45H303.3M303.3 498.25V501.65M310.28 498.25V500.55M317.26 498.25V500.55M324.24 498.25V500.55M331.22 498.25V500.55M338.2 498.25V500.55M345.18 498.25V500.55M352.16 498.25V500.55M359.14 498.25V500.55M366.12 498.25V500.55M373.1 498.25V501.65M380.08 498.25V500.55M387.06 498.25V500.55M394.04 498.25V500.55M401.02 498.25V500.55M408 498.25V500.55M414.98 498.25V500.55M421.96 498.25V500.55M428.94 498.25V500.55M435.92 498.25V500.55M442.9 498.25V501.65M449.88 498.25V500.55M456.86 498.25V500.55M463.84 498.25V500.55M470.82 498.25V500.55M477.8 498.25V500.55M484.78 498.25V500.55M491.76 498.25V500.55M498.74 498.25V500.55M505.72 498.25V500.55M512.7 498.25V501.65"/>
<text class="n" transform="translate(303.3 511) scale(0.86 1)" text-anchor="middle">0</text>
<text class="n" transform="translate(373.1 511) scale(0.86 1)" text-anchor="middle">50</text>
<text class="n" transform="translate(442.9 511) scale(0.86 1)" text-anchor="middle">100</text>
<text class="n" transform="translate(512.7 511) scale(0.86 1)" text-anchor="middle">150</text>
<text class="c" transform="translate(356.3 523.3) scale(0.7361 1)">Weeks of treatment with romiplostim</text>
<text class="c" transform="translate(276.9 484.6) rotate(-90) scale(0.7253 1)">Platelets<tspan dx="4.6" font-size="10">×</tspan><tspan dx="1.2">10</tspan><tspan font-size="6.5" dy="-3.2">9</tspan><tspan dy="3.2">/L</tspan></text>
<path class="ar" d="M442.3 466.3H443.7V471.1H445.3L443 474.1L440.7 471.1H442.3Z"/>
</g>
</svg></body></html>
